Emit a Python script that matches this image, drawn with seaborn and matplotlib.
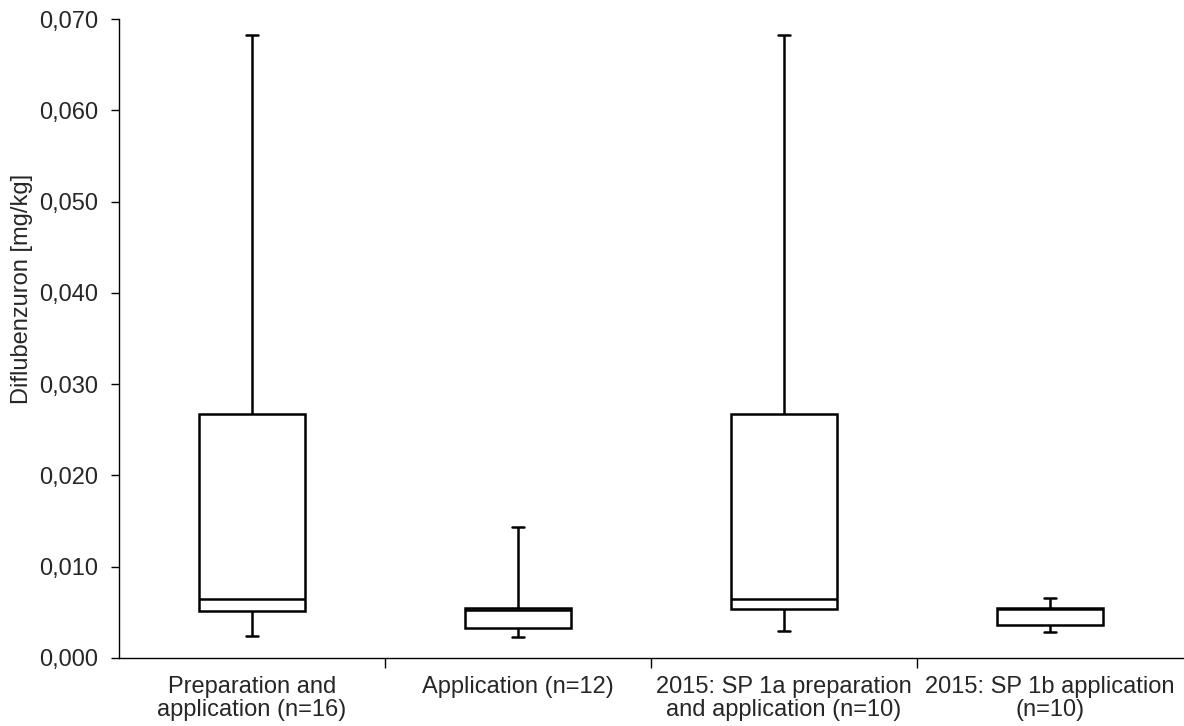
import matplotlib
matplotlib.use("Agg")
import matplotlib.pyplot as plt
import seaborn as sns
import pandas as pd
from matplotlib.ticker import FixedLocator, FuncFormatter

categories = ["Preparation and\napplication (n=16)",
              "Application (n=12)",
              "2015: SP 1a preparation\nand application (n=10)",
              "2015: SP 1b application\n(n=10)"]
# five-number summaries: min, q1, median, q3, max
mins    = [0.0024, 0.0023, 0.0030, 0.00285]
q1s     = [0.00515, 0.0033, 0.0054, 0.0036]
medians = [0.0065, 0.0053, 0.0065, 0.0054]
q3s     = [0.0267, 0.0055, 0.0267, 0.0055]
maxs    = [0.0683, 0.01435, 0.0683, 0.0066]
yticks = [0.0, 0.01, 0.02, 0.03, 0.04, 0.05, 0.06, 0.07]

rows = []
for c, a, b, m, d, e in zip(categories, mins, q1s, medians, q3s, maxs):
    for v in (a, b, m, d, e):
        rows.append({"cat": c, "val": v})
df = pd.DataFrame(rows)

sns.set_style("white")
plt.rcParams['font.family'] = ['Liberation Sans', 'DejaVu Sans']

fig = plt.figure(figsize=(11.84, 7.26), dpi=100)
ax = fig.add_axes([0.1005, 0.0937, 0.8985, 0.8801])

lw = 1.8
sns.boxplot(data=df, x="cat", y="val", order=categories, whis=(0, 100),
            width=0.4, color="white", linewidth=lw, linecolor="black",
            showfliers=False, capwidths=0.045, ax=ax,
            boxprops=dict(facecolor="white", edgecolor="black", linewidth=lw),
            medianprops=dict(color="black", linewidth=lw),
            whiskerprops=dict(color="black", linewidth=lw),
            capprops=dict(color="black", linewidth=lw))

fs = 17
ax.set_xlim(-0.5, 3.5)
ax.set_ylim(0, 0.070)
ax.set_yticks(yticks)
ax.yaxis.set_major_formatter(FuncFormatter(lambda v, p: f"{v:.3f}".replace(".", ",")))
ax.set_xlabel("")
ax.set_ylabel("Diflubenzuron [mg/kg]", fontsize=fs)
ax.yaxis.set_label_coords(-0.081, 0.577)
for s in ("top", "right"):
    ax.spines[s].set_visible(False)
for s in ("left", "bottom"):
    ax.spines[s].set_color("black")
    ax.spines[s].set_linewidth(1.0)
ax.tick_params(axis="y", which="major", direction="out", length=6, width=1.0,
               color="black", labelsize=fs, left=True, pad=9)
ax.tick_params(axis="x", which="major", length=0, labelsize=fs, pad=13)
for t in ax.get_xticklabels():
    t.set_linespacing(1.05)
ax.xaxis.set_minor_locator(FixedLocator([0.5, 1.5, 2.5]))
ax.tick_params(axis="x", which="minor", direction="out", length=7, width=1.0,
               color="black", bottom=True)
ax.grid(False)

fig.savefig("out.png", dpi=100)
